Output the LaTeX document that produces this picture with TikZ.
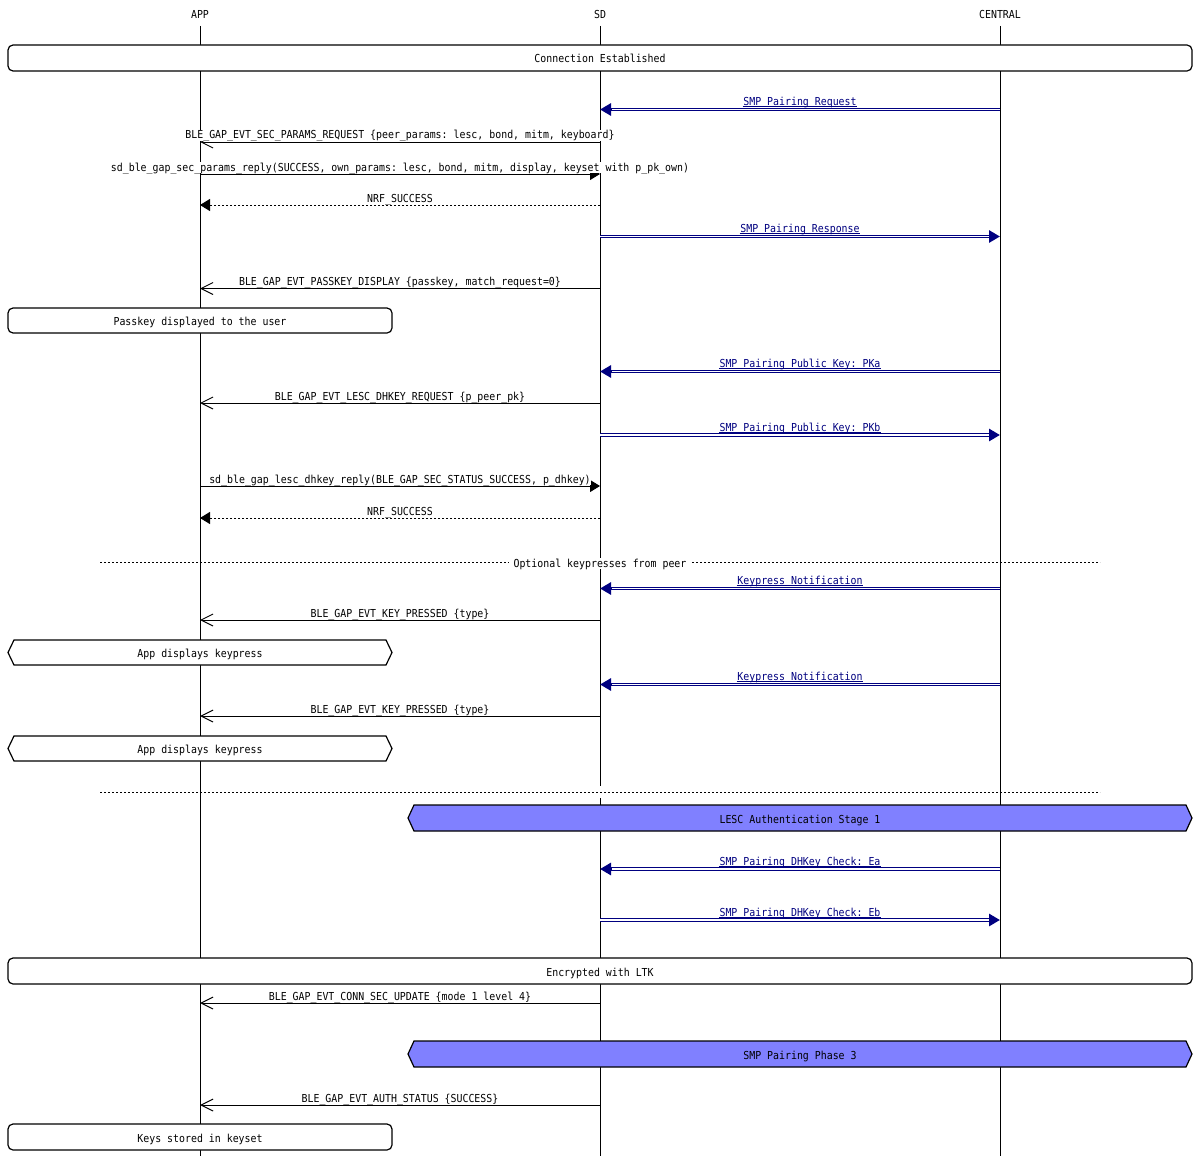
\documentclass[tikz,border=0pt]{standalone}
\usepackage{fontspec}
\setmonofont[FakeStretch=0.9]{DejaVu Sans Mono}
\usetikzlibrary{arrows.meta}
\definecolor{navyb}{RGB}{0,0,128}
\definecolor{hexfill}{RGB}{128,128,255}
\newcommand\mscf{\ttfamily\fontsize{11}{13}\selectfont}
\tikzset{
  life/.style={line width=1pt},
  rbox/.style={draw, fill=white, rounded corners=5pt, line width=1.2pt, inner sep=0pt, font=\mscf, text height=10pt, text depth=0pt},
  hexline/.style={draw, line width=1.2pt},
  boxtxt/.style={font=\mscf, inner sep=0pt, text height=10pt, text depth=0pt},
  lbl/.style={font=\mscf, fill=white, inner sep=0.5pt, anchor=base, text depth=1pt},
  blbl/.style={lbl, text=navyb},
  openarr/.style={line width=1pt, -{Straight Barb[length=12pt,width=12pt]}},
  fillarr/.style={line width=1pt, -{Triangle[length=10pt,width=12pt]}},
  retarr/.style={line width=1pt, dash pattern=on 2pt off 2pt, -{Triangle[length=10pt,width=12pt]}},
  smparr/.style={draw=navyb, line width=3.2pt, -{Triangle[length=11pt,width=12pt]}},
  dotline/.style={line width=1pt, dash pattern=on 2pt off 2pt},
}
% SD -> APP event
\newcommand\evtleft[4]{%
  \coordinate (#1s) at (SD |- 0,#2);
  \coordinate (#1e) at (APP |- 0,#2);
  \draw[#4] (#1s) -- (#1e);
  \node[lbl] (#1l) at (400,#2-3) {#3};}
% APP -> SD call
\newcommand\callright[3]{%
  \coordinate (#1s) at (APP |- 0,#2);
  \coordinate (#1e) at (SD |- 0,#2);
  \draw[fillarr] (#1s) -- (#1e);
  \node[lbl] (#1l) at (400,#2-3) {#3};}
% SMP over the air message
\newcommand\smp[5]{%
  \coordinate (#1s) at (#2 |- 0,#4);
  \coordinate (#1e) at (#3 |- 0,#4);
  \draw[smparr] (#1s) -- (#1e);
  \draw[white, line width=1.2pt, shorten >=11.5pt] (#1s) -- (#1e);
  \node[blbl] (#1l) at (800,#4-4) {#5};
  \draw[navyb, line width=0.8pt] ([yshift=-1.2pt]#1l.base west) -- ([yshift=-1.2pt]#1l.base east);}
% hexagon box: name, left, right, top, bottom, text, fill
\newcommand\hexbox[7]{%
  \draw[hexline, fill=#7] (#2,{(#4+#5)/2}) -- (#2+6,#4) -- (#3-6,#4) -- (#3,{(#4+#5)/2}) -- (#3-6,#5) -- (#2+6,#5) -- cycle;
  \node[boxtxt] (#1) at ({(#2+#3)/2},{(#4+#5)/2}) {#6};}
\begin{document}
\begin{tikzpicture}[x=1pt,y=-1pt]
\useasboundingbox (0,0) rectangle (1200,1156);
% entities
\node[boxtxt] (APP) at (200,14) {APP};
\node[boxtxt] (SD) at (600,14) {SD};
\node[boxtxt] (CENTRAL) at (1000,14) {CENTRAL};
% lifelines
\draw[life] (APP |- 0,26) -- (APP |- 0,1156);
\draw[life] (SD |- 0,26) -- (SD |- 0,786);
\draw[life] (SD |- 0,798) -- (SD |- 0,1156);
\draw[life] (CENTRAL |- 0,26) -- (CENTRAL |- 0,1156);
% boxes
\node[rbox, minimum width=1184pt, minimum height=26pt] (conn) at (600,58) {Connection Established};
\node[rbox, minimum width=384pt, minimum height=25pt] (pk) at (200,320.5) {Passkey displayed to the user};
\hexbox{hex1}{8}{392}{640}{665}{App displays keypress}{white}
\hexbox{hex2}{8}{392}{736}{761}{App displays keypress}{white}
\hexbox{lesc}{408}{1192}{805}{831}{LESC Authentication Stage 1}{hexfill}
\node[rbox, minimum width=1184pt, minimum height=26pt] (enc) at (600,971) {Encrypted with LTK};
\hexbox{ph3}{408}{1192}{1041}{1067}{SMP Pairing Phase 3}{hexfill}
\node[rbox, minimum width=384pt, minimum height=26pt] (keys) at (200,1137) {Keys stored in keyset};
% messages
\smp{m1}{CENTRAL}{SD}{109.5}{SMP Pairing Request}
\evtleft{e1}{142}{BLE\_GAP\_EVT\_SEC\_PARAMS\_REQUEST \{peer\_params: lesc, bond, mitm, keyboard\}}{openarr}
\callright{c1}{174}{sd\_ble\_gap\_sec\_params\_reply(SUCCESS, own\_params: lesc, bond, mitm, display, keyset with p\_pk\_own)}
\evtleft{r1}{205}{NRF\_SUCCESS}{retarr}
\smp{m2}{SD}{CENTRAL}{236.5}{SMP Pairing Response}
\evtleft{e2}{288.5}{BLE\_GAP\_EVT\_PASSKEY\_DISPLAY \{passkey, match\_request=0\}}{openarr}
\smp{m3}{CENTRAL}{SD}{371.5}{SMP Pairing Public Key: PKa}
\evtleft{e3}{403}{BLE\_GAP\_EVT\_LESC\_DHKEY\_REQUEST \{p\_peer\_pk\}}{openarr}
\smp{m4}{SD}{CENTRAL}{435}{SMP Pairing Public Key: PKb}
\callright{c2}{486}{sd\_ble\_gap\_lesc\_dhkey\_reply(BLE\_GAP\_SEC\_STATUS\_SUCCESS, p\_dhkey)}
\evtleft{r2}{518}{NRF\_SUCCESS}{retarr}
% divider 1
\coordinate (d1a) at (100,562);
\coordinate (d1b) at (1100,562);
\draw[dotline] (d1a) -- (d1b);
\node[lbl, inner xsep=5pt] (d1l) at (600,567) {Optional keypresses from peer};
\smp{m5}{CENTRAL}{SD}{588.5}{Keypress Notification}
\evtleft{e4}{620}{BLE\_GAP\_EVT\_KEY\_PRESSED \{type\}}{openarr}
\smp{m6}{CENTRAL}{SD}{684.5}{Keypress Notification}
\evtleft{e5}{716}{BLE\_GAP\_EVT\_KEY\_PRESSED \{type\}}{openarr}
% divider 2
\coordinate (d2a) at (100,792);
\coordinate (d2b) at (1100,792);
\draw[dotline] (d2a) -- (d2b);
\smp{m7}{CENTRAL}{SD}{869}{SMP Pairing DHKey Check: Ea}
\smp{m8}{SD}{CENTRAL}{920}{SMP Pairing DHKey Check: Eb}
\evtleft{e6}{1003}{BLE\_GAP\_EVT\_CONN\_SEC\_UPDATE \{mode 1 level 4\}}{openarr}
\evtleft{e7}{1105}{BLE\_GAP\_EVT\_AUTH\_STATUS \{SUCCESS\}}{openarr}
\end{tikzpicture}
\end{document}
